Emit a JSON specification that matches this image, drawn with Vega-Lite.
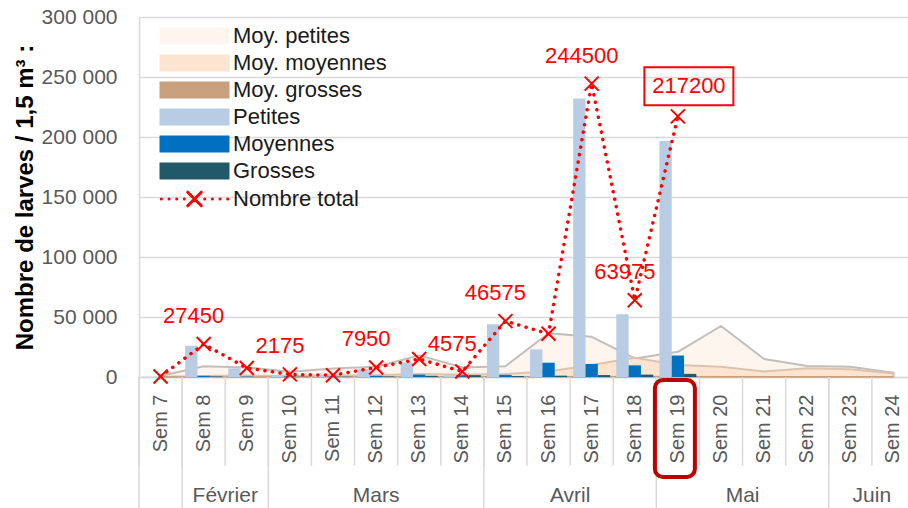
{
  "$schema": "https://vega.github.io/schema/vega-lite/v6.json",
  "width": 769,
  "height": 360,
  "autosize": "none",
  "padding": {"left": 139, "top": 17, "right": 0, "bottom": 131},
  "config": {
    "view": {"stroke": null},
    "font": "Liberation Sans",
    "locale": {"number": {"decimal": ",", "thousands": " ", "grouping": [3], "currency": ["", " €"]}},
    "legend": {
      "title": null,
      "orient": "none",
      "legendX": 44.5,
      "legendY": 8,
      "padding": 0,
      "symbolSize": 289,
      "labelOffset": 27.5,
      "labelFontSize": 22,
      "labelFont": "Liberation Sans",
      "labelColor": "#1A1A1A",
      "rowPadding": 3
    }
  },
  "datasets": {
    "moyennes": [
      {"semaine": "Sem 7", "serie": "Moy. petites", "larves": 800},
      {"semaine": "Sem 8", "serie": "Moy. petites", "larves": 9000},
      {"semaine": "Sem 9", "serie": "Moy. petites", "larves": 8000},
      {"semaine": "Sem 10", "serie": "Moy. petites", "larves": 4400},
      {"semaine": "Sem 11", "serie": "Moy. petites", "larves": 7000},
      {"semaine": "Sem 12", "serie": "Moy. petites", "larves": 8500},
      {"semaine": "Sem 13", "serie": "Moy. petites", "larves": 18000},
      {"semaine": "Sem 14", "serie": "Moy. petites", "larves": 8000},
      {"semaine": "Sem 15", "serie": "Moy. petites", "larves": 9000},
      {"semaine": "Sem 16", "serie": "Moy. petites", "larves": 36500},
      {"semaine": "Sem 17", "serie": "Moy. petites", "larves": 33500},
      {"semaine": "Sem 18", "serie": "Moy. petites", "larves": 15500},
      {"semaine": "Sem 19", "serie": "Moy. petites", "larves": 21000},
      {"semaine": "Sem 20", "serie": "Moy. petites", "larves": 42500},
      {"semaine": "Sem 21", "serie": "Moy. petites", "larves": 15000},
      {"semaine": "Sem 22", "serie": "Moy. petites", "larves": 9200},
      {"semaine": "Sem 23", "serie": "Moy. petites", "larves": 8600},
      {"semaine": "Sem 24", "serie": "Moy. petites", "larves": 3600},
      {"semaine": "Sem 7", "serie": "Moy. moyennes", "larves": 300},
      {"semaine": "Sem 8", "serie": "Moy. moyennes", "larves": 800},
      {"semaine": "Sem 9", "serie": "Moy. moyennes", "larves": 1200},
      {"semaine": "Sem 10", "serie": "Moy. moyennes", "larves": 800},
      {"semaine": "Sem 11", "serie": "Moy. moyennes", "larves": 1200},
      {"semaine": "Sem 12", "serie": "Moy. moyennes", "larves": 1500},
      {"semaine": "Sem 13", "serie": "Moy. moyennes", "larves": 2500},
      {"semaine": "Sem 14", "serie": "Moy. moyennes", "larves": 1800},
      {"semaine": "Sem 15", "serie": "Moy. moyennes", "larves": 2500},
      {"semaine": "Sem 16", "serie": "Moy. moyennes", "larves": 4500},
      {"semaine": "Sem 17", "serie": "Moy. moyennes", "larves": 10000},
      {"semaine": "Sem 18", "serie": "Moy. moyennes", "larves": 16000},
      {"semaine": "Sem 19", "serie": "Moy. moyennes", "larves": 10000},
      {"semaine": "Sem 20", "serie": "Moy. moyennes", "larves": 8600},
      {"semaine": "Sem 21", "serie": "Moy. moyennes", "larves": 4500},
      {"semaine": "Sem 22", "serie": "Moy. moyennes", "larves": 7200},
      {"semaine": "Sem 23", "serie": "Moy. moyennes", "larves": 6400},
      {"semaine": "Sem 24", "serie": "Moy. moyennes", "larves": 3000},
      {"semaine": "Sem 7", "serie": "Moy. grosses", "larves": 50},
      {"semaine": "Sem 8", "serie": "Moy. grosses", "larves": 100},
      {"semaine": "Sem 9", "serie": "Moy. grosses", "larves": 100},
      {"semaine": "Sem 10", "serie": "Moy. grosses", "larves": 100},
      {"semaine": "Sem 11", "serie": "Moy. grosses", "larves": 150},
      {"semaine": "Sem 12", "serie": "Moy. grosses", "larves": 200},
      {"semaine": "Sem 13", "serie": "Moy. grosses", "larves": 300},
      {"semaine": "Sem 14", "serie": "Moy. grosses", "larves": 300},
      {"semaine": "Sem 15", "serie": "Moy. grosses", "larves": 350},
      {"semaine": "Sem 16", "serie": "Moy. grosses", "larves": 400},
      {"semaine": "Sem 17", "serie": "Moy. grosses", "larves": 500},
      {"semaine": "Sem 18", "serie": "Moy. grosses", "larves": 600},
      {"semaine": "Sem 19", "serie": "Moy. grosses", "larves": 500},
      {"semaine": "Sem 20", "serie": "Moy. grosses", "larves": 450},
      {"semaine": "Sem 21", "serie": "Moy. grosses", "larves": 400},
      {"semaine": "Sem 22", "serie": "Moy. grosses", "larves": 400},
      {"semaine": "Sem 23", "serie": "Moy. grosses", "larves": 350},
      {"semaine": "Sem 24", "serie": "Moy. grosses", "larves": 250}
    ],
    "barres": [
      {"semaine": "Sem 7", "taille": "Petites", "larves": 300},
      {"semaine": "Sem 7", "taille": "Moyennes", "larves": 100},
      {"semaine": "Sem 7", "taille": "Grosses", "larves": 0},
      {"semaine": "Sem 8", "taille": "Petites", "larves": 26000},
      {"semaine": "Sem 8", "taille": "Moyennes", "larves": 1000},
      {"semaine": "Sem 8", "taille": "Grosses", "larves": 450},
      {"semaine": "Sem 9", "taille": "Petites", "larves": 7200},
      {"semaine": "Sem 9", "taille": "Moyennes", "larves": 300},
      {"semaine": "Sem 9", "taille": "Grosses", "larves": 0},
      {"semaine": "Sem 10", "taille": "Petites", "larves": 1500},
      {"semaine": "Sem 10", "taille": "Moyennes", "larves": 500},
      {"semaine": "Sem 10", "taille": "Grosses", "larves": 175},
      {"semaine": "Sem 11", "taille": "Petites", "larves": 1000},
      {"semaine": "Sem 11", "taille": "Moyennes", "larves": 300},
      {"semaine": "Sem 11", "taille": "Grosses", "larves": 200},
      {"semaine": "Sem 12", "taille": "Petites", "larves": 6500},
      {"semaine": "Sem 12", "taille": "Moyennes", "larves": 1000},
      {"semaine": "Sem 12", "taille": "Grosses", "larves": 450},
      {"semaine": "Sem 13", "taille": "Petites", "larves": 12000},
      {"semaine": "Sem 13", "taille": "Moyennes", "larves": 2000},
      {"semaine": "Sem 13", "taille": "Grosses", "larves": 1000},
      {"semaine": "Sem 14", "taille": "Petites", "larves": 1500},
      {"semaine": "Sem 14", "taille": "Moyennes", "larves": 1500},
      {"semaine": "Sem 14", "taille": "Grosses", "larves": 1575},
      {"semaine": "Sem 15", "taille": "Petites", "larves": 44000},
      {"semaine": "Sem 15", "taille": "Moyennes", "larves": 1800},
      {"semaine": "Sem 15", "taille": "Grosses", "larves": 775},
      {"semaine": "Sem 16", "taille": "Petites", "larves": 23000},
      {"semaine": "Sem 16", "taille": "Moyennes", "larves": 11900},
      {"semaine": "Sem 16", "taille": "Grosses", "larves": 1100},
      {"semaine": "Sem 17", "taille": "Petites", "larves": 232000},
      {"semaine": "Sem 17", "taille": "Moyennes", "larves": 10900},
      {"semaine": "Sem 17", "taille": "Grosses", "larves": 1600},
      {"semaine": "Sem 18", "taille": "Petites", "larves": 52300},
      {"semaine": "Sem 18", "taille": "Moyennes", "larves": 9700},
      {"semaine": "Sem 18", "taille": "Grosses", "larves": 1975},
      {"semaine": "Sem 19", "taille": "Petites", "larves": 196700},
      {"semaine": "Sem 19", "taille": "Moyennes", "larves": 17900},
      {"semaine": "Sem 19", "taille": "Grosses", "larves": 2600}
    ],
    "total": [
      {"semaine": "Sem 7", "total": 400},
      {"semaine": "Sem 8", "total": 27450},
      {"semaine": "Sem 9", "total": 7500},
      {"semaine": "Sem 10", "total": 2175},
      {"semaine": "Sem 11", "total": 1500},
      {"semaine": "Sem 12", "total": 7950},
      {"semaine": "Sem 13", "total": 15000},
      {"semaine": "Sem 14", "total": 4575},
      {"semaine": "Sem 15", "total": 46575},
      {"semaine": "Sem 16", "total": 36000},
      {"semaine": "Sem 17", "total": 244500},
      {"semaine": "Sem 18", "total": 63975},
      {"semaine": "Sem 19", "total": 217200}
    ],
    "mois": [
      {"mois": "", "debut": "Sem 7", "centre": "Sem 7"},
      {"mois": "Février", "debut": "Sem 8", "centre": "Sem 9"},
      {"mois": "Mars", "debut": "Sem 10", "centre": "Sem 12"},
      {"mois": "Avril", "debut": "Sem 15", "centre": "Sem 17"},
      {"mois": "Mai", "debut": "Sem 19", "centre": "Sem 21"},
      {"mois": "Juin", "debut": "Sem 23", "centre": "Sem 24"}
    ]
  },
  "encoding": {
    "x": {
      "field": "semaine",
      "type": "ordinal",
      "title": null,
      "scale": {
        "domain": ["Sem 7", "Sem 8", "Sem 9", "Sem 10", "Sem 11", "Sem 12", "Sem 13", "Sem 14", "Sem 15", "Sem 16", "Sem 17", "Sem 18", "Sem 19", "Sem 20", "Sem 21", "Sem 22", "Sem 23", "Sem 24"],
        "range": [0, 776],
        "paddingInner": 0,
        "paddingOuter": 0
      },
      "axis": {
        "title": null,
        "ticks": false,
        "grid": false,
        "domain": true,
        "domainColor": "#D9D9D9",
        "domainWidth": 1.5,
        "labelAngle": -90,
        "labelPadding": 17,
        "labelFontSize": 20,
        "labelColor": "#595959",
        "labelFont": "Liberation Sans"
      }
    }
  },
  "layer": [
    {
      "data": {"name": "moyennes"},
      "transform": [{"filter": "datum.serie === 'Moy. petites'"}],
      "mark": {"type": "area", "stroke": "#C4BDB8", "strokeWidth": 2, "strokeJoin": "round"},
      "encoding": {
        "y": {
          "field": "larves", "type": "quantitative", "stack": null,
          "scale": {"domain": [0, 300000], "nice": false},
          "axis": {
            "title": "Nombre de larves / 1,5 m³ :",
            "titleFontSize": 24, "titleFontWeight": "bold", "titleColor": "#000000",
            "titleFont": "Liberation Sans",
            "titleAngle": -90, "titleX": -114, "titleY": 180, "titleAlign": "center", "titleBaseline": "middle",
            "values": [0, 50000, 100000, 150000, 200000, 250000, 300000],
            "format": ",.0f",
            "ticks": false,
            "domain": true, "domainColor": "#D9D9D9", "domainWidth": 1.5,
            "grid": true, "gridColor": "#D9D9D9", "gridWidth": 1.5,
            "labelPadding": 22, "labelFontSize": 21, "labelColor": "#595959", "labelFont": "Liberation Sans"
          }
        },
        "color": {
          "datum": "Moy. petites",
          "scale": {
            "domain": ["Moy. petites", "Moy. moyennes", "Moy. grosses", "Petites", "Moyennes", "Grosses", "Nombre total"],
            "range": ["#FDF5EE", "#FCE4D1", "#C8A07E", "#B8CCE4", "#0070C0", "#215968", "#FF0000"]
          },
          "legend": {
            "title": null,
            "encode": {
              "symbols": {
                "update": {
                  "shape": {"signal": "datum.value === 'Nombre total' ? 'M-3.9,0h0.01M-3,0h0.01M-2.1,0h0.01M-1.2,0h0.01M1.2,0h0.01M2.1,0h0.01M3,0h0.01M3.9,0h0.01M-0.8,-0.8L0.8,0.8M-0.8,0.8L0.8,-0.8' : 'M-4,-0.88H4V0.88H-4Z'"},
                  "fill": {"signal": "datum.value === 'Nombre total' ? 'transparent' : scale('color', datum.value)"},
                  "stroke": {"signal": "datum.value === 'Moy. petites' ? '#C4BDB8' : datum.value === 'Moy. moyennes' ? '#E3C7B2' : datum.value === 'Moy. grosses' ? '#A88462' : datum.value === 'Nombre total' ? '#FF0000' : 'transparent'"},
                  "strokeWidth": {"signal": "datum.value === 'Nombre total' ? 3 : 2"},
                  "strokeCap": {"value": "round"},
                  "size": {"value": 289},
                  "opacity": {"value": 1}
                }
              }
            }
          }
        }
      }
    },
    {
      "data": {"name": "moyennes"},
      "transform": [{"filter": "datum.serie === 'Moy. moyennes'"}],
      "mark": {"type": "area", "stroke": "#DCC3B0", "strokeWidth": 2, "strokeJoin": "round"},
      "encoding": {
        "y": {"field": "larves", "type": "quantitative", "stack": null, "scale": {"domain": [0, 300000], "nice": false}},
        "color": {"datum": "Moy. moyennes", "legend": {
            "title": null,
            "encode": {
              "symbols": {
                "update": {
                  "shape": {"signal": "datum.value === 'Nombre total' ? 'M-3.9,0h0.01M-3,0h0.01M-2.1,0h0.01M-1.2,0h0.01M1.2,0h0.01M2.1,0h0.01M3,0h0.01M3.9,0h0.01M-0.8,-0.8L0.8,0.8M-0.8,0.8L0.8,-0.8' : 'M-4,-0.88H4V0.88H-4Z'"},
                  "fill": {"signal": "datum.value === 'Nombre total' ? 'transparent' : scale('color', datum.value)"},
                  "stroke": {"signal": "datum.value === 'Moy. petites' ? '#C4BDB8' : datum.value === 'Moy. moyennes' ? '#E3C7B2' : datum.value === 'Moy. grosses' ? '#A88462' : datum.value === 'Nombre total' ? '#FF0000' : 'transparent'"},
                  "strokeWidth": {"signal": "datum.value === 'Nombre total' ? 3 : 2"},
                  "strokeCap": {"value": "round"},
                  "size": {"value": 289},
                  "opacity": {"value": 1}
                }
              }
            }
          }}
      }
    },
    {
      "data": {"name": "moyennes"},
      "transform": [{"filter": "datum.serie === 'Moy. grosses'"}],
      "mark": {"type": "area", "stroke": "#C8A07E", "strokeWidth": 1, "strokeJoin": "round"},
      "encoding": {
        "y": {"field": "larves", "type": "quantitative", "stack": null, "scale": {"domain": [0, 300000], "nice": false}},
        "color": {"datum": "Moy. grosses", "legend": {
            "title": null,
            "encode": {
              "symbols": {
                "update": {
                  "shape": {"signal": "datum.value === 'Nombre total' ? 'M-3.9,0h0.01M-3,0h0.01M-2.1,0h0.01M-1.2,0h0.01M1.2,0h0.01M2.1,0h0.01M3,0h0.01M3.9,0h0.01M-0.8,-0.8L0.8,0.8M-0.8,0.8L0.8,-0.8' : 'M-4,-0.88H4V0.88H-4Z'"},
                  "fill": {"signal": "datum.value === 'Nombre total' ? 'transparent' : scale('color', datum.value)"},
                  "stroke": {"signal": "datum.value === 'Moy. petites' ? '#C4BDB8' : datum.value === 'Moy. moyennes' ? '#E3C7B2' : datum.value === 'Moy. grosses' ? '#A88462' : datum.value === 'Nombre total' ? '#FF0000' : 'transparent'"},
                  "strokeWidth": {"signal": "datum.value === 'Nombre total' ? 3 : 2"},
                  "strokeCap": {"value": "round"},
                  "size": {"value": 289},
                  "opacity": {"value": 1}
                }
              }
            }
          }}
      }
    },
    {
      "data": {"name": "barres"},
      "mark": {"type": "bar"},
      "encoding": {
        "xOffset": {"field": "taille", "type": "nominal", "scale": {"domain": ["Petites", "Moyennes", "Grosses"], "paddingOuter": 0.25, "paddingInner": 0}},
        "y": {"field": "larves", "type": "quantitative", "stack": null, "scale": {"domain": [0, 300000], "nice": false}},
        "color": {"field": "taille", "type": "nominal", "title": null, "legend": {
            "title": null,
            "encode": {
              "symbols": {
                "update": {
                  "shape": {"signal": "datum.value === 'Nombre total' ? 'M-3.9,0h0.01M-3,0h0.01M-2.1,0h0.01M-1.2,0h0.01M1.2,0h0.01M2.1,0h0.01M3,0h0.01M3.9,0h0.01M-0.8,-0.8L0.8,0.8M-0.8,0.8L0.8,-0.8' : 'M-4,-0.88H4V0.88H-4Z'"},
                  "fill": {"signal": "datum.value === 'Nombre total' ? 'transparent' : scale('color', datum.value)"},
                  "stroke": {"signal": "datum.value === 'Moy. petites' ? '#C4BDB8' : datum.value === 'Moy. moyennes' ? '#E3C7B2' : datum.value === 'Moy. grosses' ? '#A88462' : datum.value === 'Nombre total' ? '#FF0000' : 'transparent'"},
                  "strokeWidth": {"signal": "datum.value === 'Nombre total' ? 3 : 2"},
                  "strokeCap": {"value": "round"},
                  "size": {"value": 289},
                  "opacity": {"value": 1}
                }
              }
            }
          }}
      }
    },
    {
      "data": {"name": "moyennes"},
      "transform": [{"filter": "datum.serie === 'Moy. petites'"}],
      "mark": {"type": "rule", "color": "#D9D9D9", "strokeWidth": 1.5},
      "encoding": {
        "x": {"field": "semaine", "type": "ordinal", "bandPosition": 0},
        "y": {"datum": 0},
        "y2": {"datum": -74000}
      }
    },
    {
      "data": {"name": "mois"},
      "mark": {"type": "rule", "color": "#D9D9D9", "strokeWidth": 1.5},
      "encoding": {
        "x": {"field": "debut", "type": "ordinal", "bandPosition": 0},
        "y": {"datum": 0},
        "y2": {"datum": -110000}
      }
    },
    {
      "data": {"name": "mois"},
      "transform": [{"filter": "datum.mois !== 'Mars'"}],
      "mark": {"type": "text", "fontSize": 21, "color": "#595959", "baseline": "middle", "align": "center"},
      "encoding": {
        "x": {"field": "centre", "type": "ordinal", "bandPosition": 0},
        "y": {"datum": -99000},
        "text": {"field": "mois"}
      }
    },
    {
      "data": {"name": "mois"},
      "transform": [{"filter": "datum.mois === 'Mars'"}],
      "mark": {"type": "text", "fontSize": 21, "color": "#595959", "baseline": "middle", "align": "center"},
      "encoding": {
        "x": {"field": "centre", "type": "ordinal", "bandPosition": 0.5},
        "y": {"datum": -99000},
        "text": {"field": "mois"}
      }
    },
    {
      "data": {"values": [{"semaine": "Sem 19"}]},
      "mark": {"type": "bar", "width": 40, "xOffset": -3, "cornerRadius": 8, "fill": "transparent", "stroke": "#C00000", "strokeWidth": 4},
      "encoding": {
        "y": {"datum": -2500},
        "y2": {"datum": -83300}
      }
    },
    {
      "data": {"name": "total"},
      "mark": {"type": "line", "strokeWidth": 3.5, "strokeDash": [0.1, 7.5], "strokeCap": "round"},
      "encoding": {
        "y": {"field": "total", "type": "quantitative", "scale": {"domain": [0, 300000], "nice": false}},
        "color": {"datum": "Nombre total", "legend": {
            "title": null,
            "encode": {
              "symbols": {
                "update": {
                  "shape": {"signal": "datum.value === 'Nombre total' ? 'M-3.9,0h0.01M-3,0h0.01M-2.1,0h0.01M-1.2,0h0.01M1.2,0h0.01M2.1,0h0.01M3,0h0.01M3.9,0h0.01M-0.8,-0.8L0.8,0.8M-0.8,0.8L0.8,-0.8' : 'M-4,-0.88H4V0.88H-4Z'"},
                  "fill": {"signal": "datum.value === 'Nombre total' ? 'transparent' : scale('color', datum.value)"},
                  "stroke": {"signal": "datum.value === 'Moy. petites' ? '#C4BDB8' : datum.value === 'Moy. moyennes' ? '#E3C7B2' : datum.value === 'Moy. grosses' ? '#A88462' : datum.value === 'Nombre total' ? '#FF0000' : 'transparent'"},
                  "strokeWidth": {"signal": "datum.value === 'Nombre total' ? 3 : 2"},
                  "strokeCap": {"value": "round"},
                  "size": {"value": 289},
                  "opacity": {"value": 1}
                }
              }
            }
          }}
      }
    },
    {
      "data": {"name": "total"},
      "mark": {"type": "point", "shape": "M-1,-1L1,1M-1,1L1,-1", "size": 196, "filled": false, "strokeWidth": 2, "opacity": 1},
      "encoding": {
        "y": {"field": "total", "type": "quantitative"},
        "color": {"datum": "Nombre total", "legend": {
            "title": null,
            "encode": {
              "symbols": {
                "update": {
                  "shape": {"signal": "datum.value === 'Nombre total' ? 'M-3.9,0h0.01M-3,0h0.01M-2.1,0h0.01M-1.2,0h0.01M1.2,0h0.01M2.1,0h0.01M3,0h0.01M3.9,0h0.01M-0.8,-0.8L0.8,0.8M-0.8,0.8L0.8,-0.8' : 'M-4,-0.88H4V0.88H-4Z'"},
                  "fill": {"signal": "datum.value === 'Nombre total' ? 'transparent' : scale('color', datum.value)"},
                  "stroke": {"signal": "datum.value === 'Moy. petites' ? '#C4BDB8' : datum.value === 'Moy. moyennes' ? '#E3C7B2' : datum.value === 'Moy. grosses' ? '#A88462' : datum.value === 'Nombre total' ? '#FF0000' : 'transparent'"},
                  "strokeWidth": {"signal": "datum.value === 'Nombre total' ? 3 : 2"},
                  "strokeCap": {"value": "round"},
                  "size": {"value": 289},
                  "opacity": {"value": 1}
                }
              }
            }
          }}
      }
    },
    {
      "data": {"name": "total"},
      "transform": [{"filter": {"field": "semaine", "oneOf": ["Sem 8", "Sem 10", "Sem 12", "Sem 14", "Sem 15", "Sem 17", "Sem 18"]}}],
      "mark": {"type": "text", "fontSize": 22, "color": "#FF0000", "dx": -10, "dy": -28, "align": "center", "baseline": "middle"},
      "encoding": {
        "y": {"field": "total", "type": "quantitative"},
        "text": {"field": "total", "type": "quantitative", "format": "d"}
      }
    },
    {
      "data": {"name": "total"},
      "transform": [{"filter": "datum.semaine === 'Sem 19'"}],
      "mark": {"type": "text", "fontSize": 22, "color": "#FF0000", "dx": 11, "dy": -30, "align": "center", "baseline": "middle"},
      "encoding": {
        "y": {"field": "total", "type": "quantitative"},
        "text": {"field": "total", "type": "quantitative", "format": "d"}
      }
    },
    {
      "data": {"name": "total"},
      "transform": [{"filter": "datum.semaine === 'Sem 19'"}],
      "mark": {"type": "point", "shape": "M-1,-0.427H1V0.427H-1Z", "size": 7921, "filled": false, "color": "#FF0000", "strokeWidth": 2, "opacity": 1, "xOffset": 11, "yOffset": -30},
      "encoding": {
        "y": {"field": "total", "type": "quantitative"}
      }
    }
  ]
}
